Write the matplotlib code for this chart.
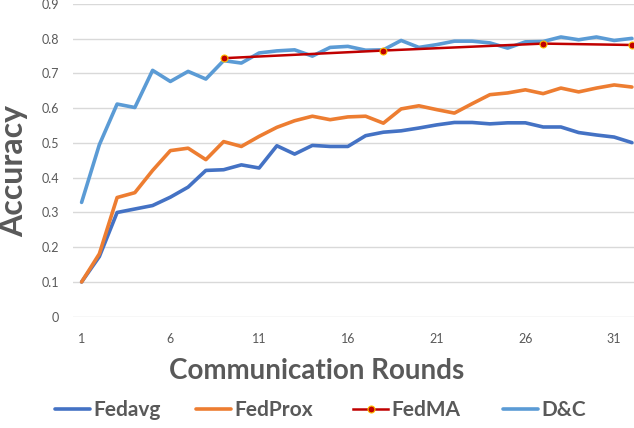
import matplotlib
matplotlib.use("Agg")
import matplotlib.pyplot as plt

rounds = list(range(1, 33))
fedavg = [0.10, 0.173, 0.300, 0.310, 0.320, 0.344, 0.373, 0.421, 0.423, 0.437,
          0.428, 0.492, 0.468, 0.493, 0.490, 0.490, 0.521, 0.531, 0.535, 0.543,
          0.552, 0.559, 0.559, 0.555, 0.558, 0.558, 0.546, 0.546, 0.530, 0.523,
          0.517, 0.501]
fedprox = [0.10, 0.181, 0.343, 0.357, 0.421, 0.478, 0.485, 0.452, 0.504, 0.490,
           0.519, 0.545, 0.564, 0.577, 0.567, 0.575, 0.577, 0.557, 0.598, 0.607,
           0.596, 0.586, 0.613, 0.639, 0.644, 0.653, 0.642, 0.658, 0.647, 0.658,
           0.667, 0.661]
fedma_rounds = [9, 18, 27, 32]
fedma = [0.744, 0.766, 0.786, 0.782]
dc = [0.329, 0.495, 0.612, 0.602, 0.709, 0.677, 0.706, 0.684, 0.737, 0.730,
      0.759, 0.765, 0.768, 0.750, 0.775, 0.778, 0.767, 0.768, 0.795, 0.775,
      0.783, 0.793, 0.793, 0.788, 0.773, 0.791, 0.792, 0.805, 0.797, 0.805,
      0.795, 0.801]
xticks = [1, 6, 11, 16, 21, 26, 31]
yticks = [0, 0.1, 0.2, 0.3, 0.4, 0.5, 0.6, 0.7, 0.8, 0.9]
ytick_labels = ["0", "0.1", "0.2", "0.3", "0.4", "0.5", "0.6", "0.7", "0.8", "0.9"]

plt.rcParams['font.family'] = ['Lato', 'DejaVu Sans']
gray = '#595959'

fig = plt.figure(figsize=(6.34, 4.28), dpi=100)
ax = fig.add_axes([0.1147, 0.26, 0.896, 0.7307])

ax.plot(rounds, fedavg, color='#4472C4', lw=2.6, label='Fedavg', zorder=3,
        solid_capstyle='round')
ax.plot(rounds, fedprox, color='#ED7D31', lw=2.6, label='FedProx', zorder=3,
        solid_capstyle='round')
ax.plot(rounds, dc, color='#5B9BD5', lw=2.6, label='D&C', zorder=4,
        solid_capstyle='round')
ax.plot(fedma_rounds, fedma, color='#C00000', lw=1.8, marker='o', markersize=5,
        markerfacecolor='#C00000', markeredgecolor='#FFC000', markeredgewidth=0.8,
        label='FedMA', zorder=5)

ax.set_xlim(0.5, 32.5)
ax.set_ylim(0, 0.9)
ax.set_xticks(xticks)
ax.set_xticklabels([str(t) for t in xticks])
ax.set_yticks(yticks)
ax.set_yticklabels(ytick_labels)
ax.tick_params(axis='both', length=0, labelsize=9, labelcolor=gray)
ax.tick_params(axis='y', pad=10)
ax.tick_params(axis='x', pad=12)
for s in ax.spines.values():
    s.set_visible(False)
ax.grid(axis='y', color='#D9D9D9', lw=1)
ax.set_axisbelow(True)

fig.text(0.022, 1 - 171 / 428, 'Accuracy', rotation=90, ha='center', va='center',
         fontsize=23, fontweight='bold', color=gray)
fig.text(317 / 634, 1 - 371 / 428, 'Communication Rounds', ha='center', va='center',
         fontsize=20, fontweight='bold', color=gray)

handles, labels = ax.get_legend_handles_labels()
order = [0, 1, 3, 2]
starts = [55, 196, 353, 503]
for i, x0 in zip(order, starts):
    leg = fig.legend([handles[i]], [labels[i]], loc='center left',
                     bbox_to_anchor=(x0 / 634, 1 - 410 / 428), frameon=False,
                     prop={'size': 15, 'weight': 'bold'}, handlelength=1.68,
                     handletextpad=0.15, borderpad=0, borderaxespad=0,
                     labelcolor=gray)

fig.savefig('out.png', dpi=100)
